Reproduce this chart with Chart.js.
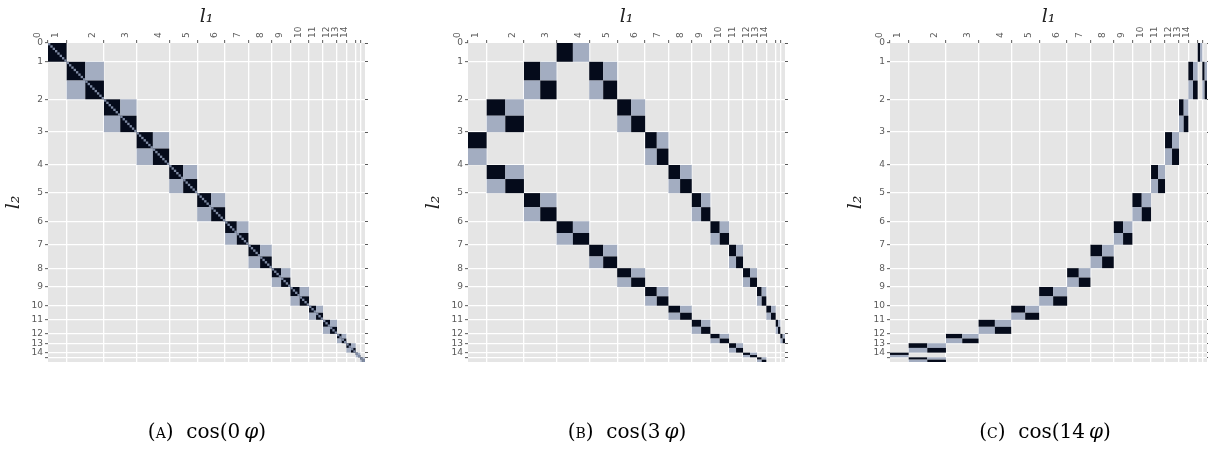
<!DOCTYPE html>
<html>
<head>
<meta charset="utf-8">
<script src="https://cdn.jsdelivr.net/npm/chart.js@4.4.1/dist/chart.umd.min.js"></script>
<style>
  html, body { margin: 0; padding: 0; background: #ffffff; width: 1208px; height: 457px; overflow: hidden; }
  .panel { position: absolute; top: 0; width: 420px; height: 457px; }
  .panel canvas { display: block; }
  .cap { position: absolute; top: 419px; width: 400px; text-align: center;
         font-family: "DejaVu Serif", "Liberation Serif", serif; font-size: 20px; line-height: 24px; color: #000; white-space: nowrap; }
  .sc { font-variant: small-caps; }
  .it { font-style: italic; }
</style>
</head>
<body>
<div class="panel" style="left:0px"><canvas id="panelA" width="420" height="457"></canvas></div>
<div class="panel" style="left:420px"><canvas id="panelB" width="420" height="457"></canvas></div>
<div class="panel" style="left:842px"><canvas id="panelC" width="420" height="457"></canvas></div>
<div class="cap" style="left:7px"><span class="sc">(a)</span>&nbsp; cos(0&thinsp;<span class="it">φ</span>)</div>
<div class="cap" style="left:427px"><span class="sc">(b)</span>&nbsp; cos(3&thinsp;<span class="it">φ</span>)</div>
<div class="cap" style="left:845px"><span class="sc">(c)</span>&nbsp; cos(14&thinsp;<span class="it">φ</span>)</div>

<script>
// Angular degrees l, their tick labels and the number of radial functions per degree
const degrees = [0, 1, 2, 3, 4, 5, 6, 7, 8, 9, 10, 11, 12, 13, 14, 15];
const degreeLabels = ['0', '1', '2', '3', '4', '5', '6', '7', '8', '9', '10', '11', '12', '13', '14', ''];
const radialCount = [8, 8, 7, 7, 6, 6, 5, 5, 4, 4, 3, 3, 2, 2, 1, 1];

// Coupled degree pairs [l1, l2] for each angular factor
const couplingCos0 = [[0,0],[1,1],[2,2],[3,3],[4,4],[5,5],[6,6],[7,7],[8,8],[9,9],[10,10],[11,11],[12,12],[13,13],[14,14],[15,15]];
const couplingCos3 = [[3,0],[2,1],[4,1],[1,2],[5,2],[0,3],[6,3],[1,4],[7,4],[2,5],[8,5],[3,6],[9,6],[4,7],[10,7],
                      [5,8],[11,8],[6,9],[12,9],[7,10],[13,10],[8,11],[14,11],[9,12],[15,12],[10,13],[11,14],[12,15]];
const couplingCos14 = [[14,0],[13,1],[15,1],[12,2],[11,3],[10,4],[9,5],[8,6],[7,7],[6,8],[5,9],[4,10],[3,11],[2,12],[1,13],[0,14],[1,15]];

// Degree 0 only has a cosine part, higher degrees have cosine and sine parts
const angularParts = degrees.map(l => (l === 0 ? ['cos'] : ['cos', 'sin']));

const COLORS = {
  strong: '#050b1b',
  mixed: '#a3adc1',
  diag: '#7f8ba4',
  panel: '#e5e5e5',
  grid: '#ffffff',
  tick: '#5a5a5a'
};

// Start index of every degree block along the basis
const blockStart = [];
let runningIndex = 0;
degrees.forEach(l => { blockStart.push(runningIndex); runningIndex += radialCount[l] * angularParts[l].length; });
const basisSize = runningIndex;

function buildCells(pairs, markDiagonal) {
  const cells = [];
  pairs.forEach(([l1, l2]) => {
    angularParts[l1].forEach((p1, i) => {
      angularParts[l2].forEach((p2, j) => {
        const x = blockStart[l1] + i * radialCount[l1];
        const y = blockStart[l2] + j * radialCount[l2];
        const same = p1 === p2;
        cells.push({ x, y, w: radialCount[l1], h: radialCount[l2], kind: same ? 'strong' : 'mixed' });
        if (same && markDiagonal) {
          const n = Math.min(radialCount[l1], radialCount[l2]);
          for (let k = 0; k < n; k++) cells.push({ x: x + k, y: y + k, w: 1, h: 1, kind: 'diag' });
        }
      });
    });
  });
  return cells;
}

const cellPlugin = {
  id: 'blockCells',
  beforeDraw(chart) {
    const { ctx, chartArea: a } = chart;
    ctx.save();
    ctx.fillStyle = COLORS.panel;
    ctx.fillRect(a.left, a.top, a.right - a.left, a.bottom - a.top);
    ctx.restore();
  },
  beforeDatasetsDraw(chart) {
    const { ctx, chartArea: a } = chart;
    const xs = chart.scales.x, ys = chart.scales.y;
    ctx.save();
    ctx.beginPath();
    ctx.rect(a.left, a.top, a.right - a.left, a.bottom - a.top);
    ctx.clip();
    chart.data.datasets[0].data.forEach(c => {
      const x0 = xs.getPixelForValue(c.x), x1 = xs.getPixelForValue(c.x + c.w);
      const y0 = ys.getPixelForValue(c.y), y1 = ys.getPixelForValue(c.y + c.h);
      ctx.fillStyle = COLORS[c.kind];
      ctx.fillRect(x0, y0, x1 - x0, y1 - y0);
    });
    ctx.restore();
  }
};

function degreeTicks(scale) {
  scale.ticks = blockStart.map(v => ({ value: v }));
}

const gridColor = ctx => (ctx.tick && ctx.tick.value === 0 ? 'rgba(0,0,0,0)' : COLORS.grid);
const tickFont = { family: 'DejaVu Sans', size: 9 };
const titleFont = { family: 'DejaVu Serif', style: 'italic', size: 19 };

function makePanel(canvasId, pairs, markDiagonal) {
  new Chart(document.getElementById(canvasId), {
    type: 'scatter',
    data: { datasets: [{ data: buildCells(pairs, markDiagonal), pointRadius: 0, pointHoverRadius: 0 }] },
    options: {
      responsive: false,
      animation: false,
      events: [],
      layout: { padding: { top: 0, bottom: 95, left: 0, right: 0 } },
      plugins: { legend: { display: false }, tooltip: { enabled: false } },
      scales: {
        x: {
          type: 'linear', position: 'top', min: 0, max: basisSize,
          afterBuildTicks: degreeTicks,
          afterFit: s => { s.height = 43; },
          border: { display: false },
          grid: { color: gridColor, lineWidth: 1.3, tickColor: COLORS.tick, tickLength: 3, tickWidth: 1 },
          ticks: { autoSkip: false, minRotation: 90, maxRotation: 90, padding: 2, font: tickFont, color: COLORS.tick,
                   callback: (v, i) => degreeLabels[i] },
          title: { display: true, text: 'l₁', font: titleFont, color: '#222', padding: { top: 6, bottom: 0 } }
        },
        y: {
          type: 'linear', position: 'left', min: 0, max: basisSize, reverse: true,
          afterBuildTicks: degreeTicks,
          afterFit: s => { s.width = 48; },
          border: { display: false },
          grid: { color: gridColor, lineWidth: 1.3, tickColor: COLORS.tick, tickLength: 3, tickWidth: 1 },
          ticks: { autoSkip: false, padding: 2, font: tickFont, color: COLORS.tick,
                   callback: (v, i) => degreeLabels[i] },
          title: { display: true, text: 'l₂', font: titleFont, color: '#222', padding: { top: 3, bottom: 0 } }
        },
        yRight: {
          type: 'linear', position: 'right', min: 0, max: basisSize, reverse: true,
          afterBuildTicks: degreeTicks,
          afterFit: s => { s.width = 55; },
          border: { display: false },
          grid: { drawOnChartArea: false, tickColor: COLORS.tick, tickLength: 3, tickWidth: 1 },
          ticks: { display: false }
        }
      }
    },
    plugins: [cellPlugin]
  });
}

makePanel('panelA', couplingCos0, true);
makePanel('panelB', couplingCos3, false);
makePanel('panelC', couplingCos14, false);
</script>
</body>
</html>
